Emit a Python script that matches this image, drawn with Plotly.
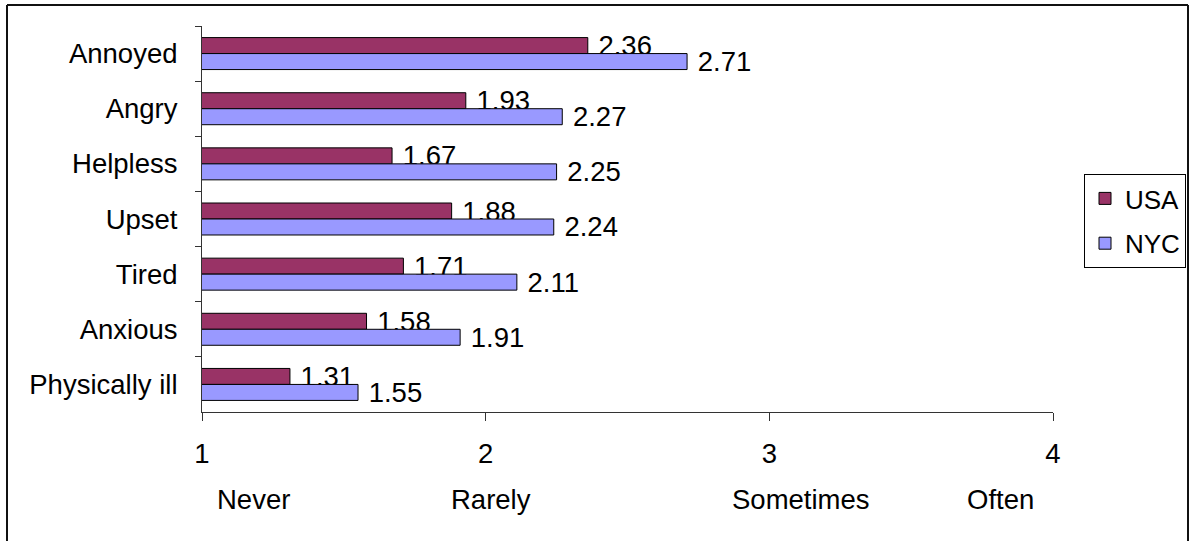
import plotly.graph_objects as go

# Survey: how often respondents felt each way (1 = Never ... 4 = Often)
feelings = ["Annoyed", "Angry", "Helpless", "Upset", "Tired", "Anxious", "Physically ill"]
usa = [2.36, 1.93, 1.67, 1.88, 1.71, 1.58, 1.31]
nyc = [2.71, 2.27, 2.25, 2.24, 2.11, 1.91, 1.55]
scale_ticks = [1, 2, 3, 4]
scale_words = ["Never", "Rarely", "Sometimes", "Often"]
scale_word_pos = [1.18, 2.02, 3.11, 3.815]

FONT = "Liberation Sans, Arial, sans-serif"
FS = 27.5
W, H = 1193, 541
L, R, T, B = 202, 140, 26, 129
PW, PH = W - L - R, H - T - B


def px_x(p):
    return (p - L) / PW


def px_y(p):
    return (H - B - p) / PH


fig = go.Figure()
for name, vals, color in (("USA", usa, "#993366"), ("NYC", nyc, "#9999FF")):
    fig.add_trace(go.Bar(
        name=name, legendgroup=name, y=feelings, x=vals, orientation="h",
        marker=dict(color=color, line=dict(color="#000000", width=1)),
        text=[f"\u00a0{v:.2f}" for v in vals], textposition="outside",
        textfont=dict(size=FS, color="#000000", family=FONT),
        constraintext="none", cliponaxis=False,
    ))

# verbal scale under the numeric ticks
for word, pos in zip(scale_words, scale_word_pos):
    fig.add_annotation(x=pos, xref="x", y=px_y(500), yref="paper",
                       text=word, showarrow=False,
                       font=dict(size=FS, color="#000000", family=FONT),
                       xanchor="center", yanchor="middle")

# chart frame: left, top and right edges
frame_style = dict(color="#111111", width=2)
for x0, y0, x1, y1 in ((7, 5, 7, 548), (7, 5, 1188, 5), (1188, 5, 1188, 548)):
    fig.add_shape(type="line", xref="paper", yref="paper",
                  x0=px_x(x0), y0=px_y(y0), x1=px_x(x1), y1=px_y(y1),
                  line=frame_style, layer="above")

fig.update_layout(
    width=W, height=H,
    margin=dict(l=L, r=R, t=T, b=B, pad=0, autoexpand=False),
    paper_bgcolor="white", plot_bgcolor="white",
    barmode="group", bargap=0.42, bargroupgap=0,
    font=dict(family=FONT, size=FS, color="#000000"),
    showlegend=True,
    legend=dict(
        x=px_x(1084), y=px_y(174), xanchor="left", yanchor="top",
        bgcolor="white", bordercolor="#000000", borderwidth=1,
        traceorder="grouped", tracegroupgap=8, itemwidth=30,
        font=dict(size=26, family=FONT, color="#000000"),
    ),
    xaxis=dict(
        range=[1, 4], tickvals=scale_ticks, ticktext=[str(t) for t in scale_ticks],
        showgrid=False, zeroline=False, showline=True, linecolor="#333333", linewidth=1,
        ticks="outside", ticklen=8, tickcolor="#333333", ticklabelstandoff=9,
        tickfont=dict(size=FS, family=FONT, color="#000000"),
    ),
    yaxis=dict(
        autorange="reversed", type="category", tickson="boundaries",
        showgrid=False, zeroline=False, showline=True, linecolor="#333333", linewidth=1,
        ticks="outside", ticklen=6, tickcolor="#333333", ticklabelstandoff=18,
        tickfont=dict(size=FS, family=FONT, color="#000000"),
    ),
)

fig.write_html("out.html")
